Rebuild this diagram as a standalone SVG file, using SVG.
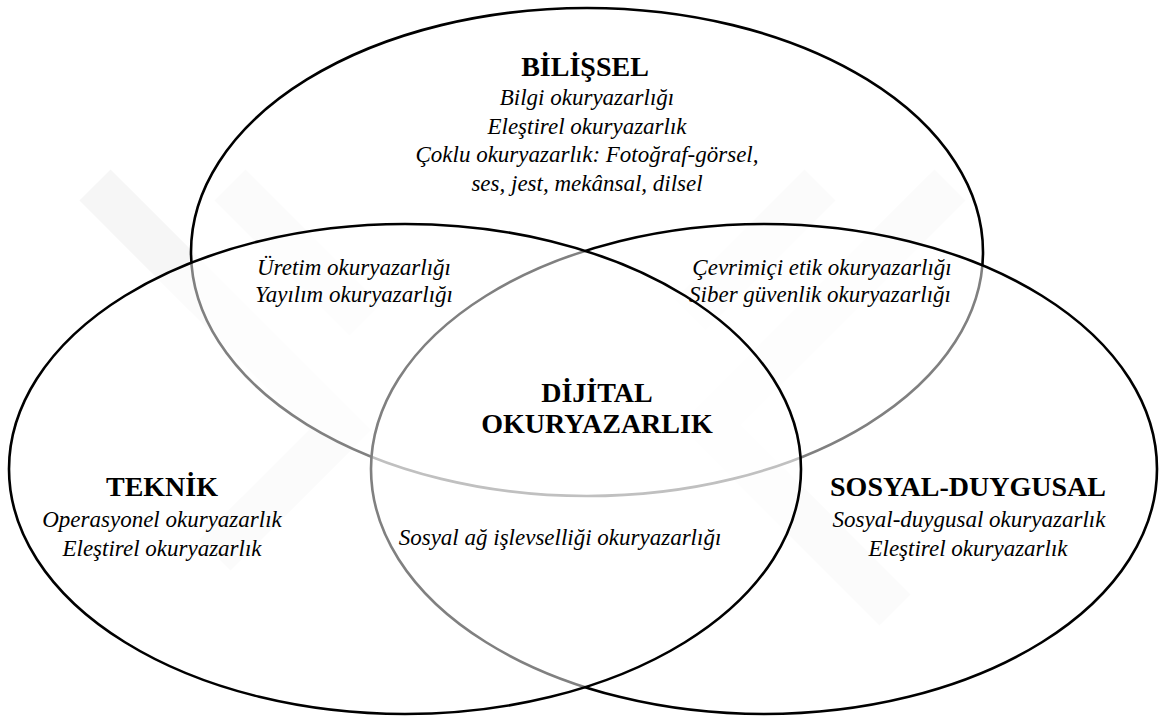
<svg xmlns="http://www.w3.org/2000/svg" width="1159" height="718" viewBox="0 0 1159 718">
<style>
.wm{fill:none;stroke:#f6f6f6;stroke-width:44;stroke-linejoin:miter}
.set{fill:#ffffff;fill-opacity:0.5;stroke:#000;stroke-width:2.6}
.ttl{font-family:"Liberation Serif","Times New Roman",serif;font-weight:bold;font-size:28px;fill:#000;text-anchor:middle}
.it{font-family:"Liberation Serif","Times New Roman",serif;font-style:italic;font-size:23px;fill:#000;text-anchor:middle}
</style>
<rect width="1159" height="718" fill="#fff"/>
<g id="watermark">
<polyline class="wm" points="95,185 340,430 215,555"/>
<polyline class="wm" points="230,185 365,320"/>
<polyline class="wm" points="950,185 710,425 895,610"/>
<polyline class="wm" points="820,185 690,315"/>
</g>
<g id="bilissel">
<ellipse class="set" cx="587" cy="252" rx="396" ry="244"/>
<text class="ttl" x="585" y="76">BİLİŞSEL</text>
<text class="it" x="587" y="105">Bilgi okuryazarlığı</text>
<text class="it" x="587" y="134">Eleştirel okuryazarlık</text>
<text class="it" x="587" y="162">Çoklu okuryazarlık: Fotoğraf-görsel,</text>
<text class="it" x="587" y="191">ses, jest, mekânsal, dilsel</text>
</g>
<g id="sosyal-duygusal">
<ellipse class="set" cx="764" cy="469" rx="393" ry="245"/>
<text class="ttl" x="968" y="496">SOSYAL-DUYGUSAL</text>
<text class="it" x="969" y="527">Sosyal-duygusal okuryazarlık</text>
<text class="it" x="968" y="556">Eleştirel okuryazarlık</text>
</g>
<g id="teknik">
<ellipse class="set" cx="405" cy="469" rx="396" ry="245"/>
<text class="ttl" x="162" y="496">TEKNİK</text>
<text class="it" x="162" y="527">Operasyonel okuryazarlık</text>
<text class="it" x="162" y="556">Eleştirel okuryazarlık</text>
</g>
<g id="teknik-bilissel">
<text class="it" x="354" y="275">Üretim okuryazarlığı</text>
<text class="it" x="354" y="302">Yayılım okuryazarlığı</text>
</g>
<g id="bilissel-sosyal">
<text class="it" x="822" y="275">Çevrimiçi etik okuryazarlığı</text>
<text class="it" x="820" y="302">Siber güvenlik okuryazarlığı</text>
</g>
<g id="teknik-sosyal">
<text class="it" x="560" y="545">Sosyal ağ işlevselliği okuryazarlığı</text>
</g>
<g id="dijital">
<text class="ttl" x="597" y="402">DİJİTAL</text>
<text class="ttl" x="597" y="433">OKURYAZARLIK</text>
</g>
<g id="connectors"/>
</svg>
